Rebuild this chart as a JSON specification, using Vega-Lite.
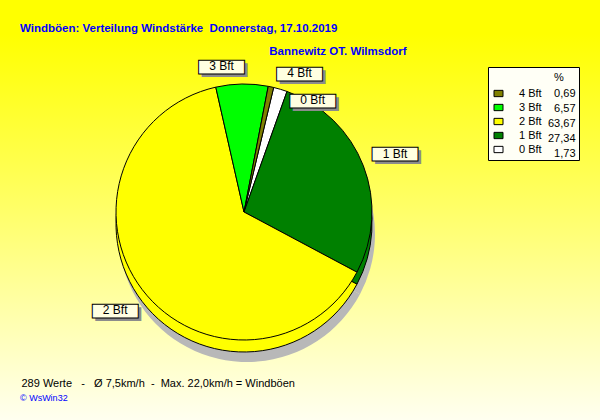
{
  "$schema": "https://vega.github.io/schema/vega-lite/v6.json",
  "width": 600,
  "height": 420,
  "autosize": {"type": "none"},
  "padding": 0,
  "background": "#FFFF00",
  "view": {
    "stroke": null,
    "fill": {
      "gradient": "linear", "x1": 0, "y1": 0, "x2": 0, "y2": 1,
      "stops": [
        {"offset": 0, "color": "#FFFF00"},
        {"offset": 0.08, "color": "#FFFF00"},
        {"offset": 0.5, "color": "#FFFF68"},
        {"offset": 1, "color": "#FFFFF0"}
      ]
    }
  },
  "config": {"font": "Liberation Sans"},
  "title": {
    "text": "Windböen: Verteilung Windstärke\u00a0 Donnerstag, 17.10.2019",
    "subtitle": "© WsWin32",
    "anchor": "start",
    "frame": "group",
    "offset": 0,
    "dx": 20,
    "dy": 403,
    "font": "Liberation Sans",
    "fontSize": 11.5,
    "fontWeight": "bold",
    "color": "#0000FF",
    "subtitleFont": "Liberation Sans",
    "subtitleFontSize": 9,
    "subtitleColor": "#0000FF",
    "subtitlePadding": 360
  },
  "datasets": {
    "wind": [
      {"bft": "0 Bft", "pct": 1.73},
      {"bft": "1 Bft", "pct": 27.34},
      {"bft": "2 Bft", "pct": 63.67},
      {"bft": "3 Bft", "pct": 6.57},
      {"bft": "4 Bft", "pct": 0.69}
    ]
  },
  "data": {"name": "wind"},
  "encoding": {
    "x": {
      "datum": 0, "type": "quantitative",
      "scale": {"domain": [-244, 356], "nice": false, "zero": false},
      "axis": {
        "title": "289 Werte\u00a0\u00a0 -\u00a0\u00a0 Ø 7,5km/h\u00a0 -\u00a0 Max. 22,0km/h = Windböen",
        "domain": false, "ticks": false, "labels": false, "grid": false,
        "titleX": 21, "titleY": -34, "titleAlign": "left", "titleAngle": 0,
        "titleBaseline": "alphabetic", "titleFont": "Liberation Sans",
        "titleFontSize": 11, "titleFontWeight": "normal", "titleColor": "#000000"
      }
    },
    "y": {
      "datum": 0, "type": "quantitative",
      "scale": {"domain": [-208, 212], "nice": false, "zero": false},
      "axis": {
        "title": "Bannewitz OT. Wilmsdorf",
        "domain": false, "ticks": false, "labels": false, "grid": false,
        "titleX": 406, "titleY": 54, "titleAlign": "right", "titleAngle": 0,
        "titleBaseline": "alphabetic", "titleFont": "Liberation Sans",
        "titleFontSize": 11.5, "titleFontWeight": "bold", "titleColor": "#0000FF"
      }
    },
    "theta": {
      "field": "pct", "type": "quantitative", "stack": true,
      "scale": {"range": [0.234, 6.517]}
    },
    "order": {"field": "bft", "type": "ordinal", "sort": "ascending"}
  },
  "layer": [
    {
      "mark": {"type": "arc", "radius": 128, "fill": "#B8B8B8", "yOffset": 22, "xOffset": 3}
    },
    {
      "mark": {"type": "arc", "radius": 128, "yOffset": 12, "stroke": "#000000", "strokeWidth": 1},
      "encoding": {
        "color": {
          "field": "bft", "type": "nominal",
          "scale": {
            "domain": ["4 Bft", "3 Bft", "2 Bft", "1 Bft", "0 Bft"],
            "range": ["#808000", "#00FF00", "#FFFF00", "#008000", "#FFFFFF"]
          },
          "legend": {
            "title": "\u200b\u00a0\u00a0\u00a0\u00a0\u00a0\u00a0\u00a0\u00a0\u00a0\u00a0\u00a0\u00a0\u00a0\u00a0\u00a0\u00a0\u00a0\u00a0\u00a0\u00a0%\u00a0\u00a0\u00a0\u200b",
            "orient": "none", "legendX": 488, "legendY": 67,
            "padding": 5, "fillColor": "#FFFFF6", "strokeColor": "#000000",
            "titleFontSize": 11, "titleFontWeight": "normal", "titlePadding": 5,
            "symbolType": "M-1,-0.7H1V0.7H-1Z", "symbolSize": 81,
            "symbolStrokeColor": "#000000", "symbolStrokeWidth": 1,
            "labelFont": "Liberation Sans", "labelFontSize": 11, "labelColor": "#000000",
            "labelOffset": 15, "rowPadding": 2
          }
        }
      }
    },
    {
      "mark": {"type": "arc", "radius": 128, "stroke": "#000000", "strokeWidth": 1},
      "encoding": {
        "color": {
          "field": "bft", "type": "nominal",
          "scale": {
            "domain": ["4 Bft", "3 Bft", "2 Bft", "1 Bft", "0 Bft"],
            "range": ["#808000", "#00FF00", "#FFFF00", "#008000", "#FFFFFF"]
          },
          "legend": {
            "title": "\u200b\u00a0\u00a0\u00a0\u00a0\u00a0\u00a0\u00a0\u00a0\u00a0\u00a0\u00a0\u00a0\u00a0\u00a0\u00a0\u00a0\u00a0\u00a0\u00a0\u00a0%\u00a0\u00a0\u00a0\u200b",
            "orient": "none", "legendX": 488, "legendY": 67,
            "padding": 5, "fillColor": "#FFFFF6", "strokeColor": "#000000",
            "titleFontSize": 11, "titleFontWeight": "normal", "titlePadding": 5,
            "symbolType": "M-1,-0.7H1V0.7H-1Z", "symbolSize": 81,
            "symbolStrokeColor": "#000000", "symbolStrokeWidth": 1,
            "labelFont": "Liberation Sans", "labelFontSize": 11, "labelColor": "#000000",
            "labelOffset": 15, "rowPadding": 2
          }
        },
        "opacity": {
          "field": "pct", "type": "ordinal",
          "sort": {"field": "bft", "op": "min", "order": "descending"},
          "scale": {"range": [1, 1, 1, 1, 1]},
          "legend": {
            "title": "\u200b",
            "orient": "none", "legendX": 488, "legendY": 67,
            "padding": 5,
            "titleFontSize": 11, "titleFontWeight": "normal", "titlePadding": 5,
            "symbolType": "M-1,-0.7H1V0.7H-1Z", "symbolSize": 81, "symbolOpacity": 0,
            "symbolFillColor": "transparent", "symbolStrokeColor": "transparent",
            "labelFont": "Liberation Sans", "labelFontSize": 11, "labelColor": "#000000",
            "labelAlign": "left", "labelOffset": 44, "rowPadding": 2,
            "labelExpr": "'\u200b' + (datum.value < 10 ? '\u2007' : '') + replace(format(datum.value, '.2f'), '.', ',')"
          }
        }
      }
    },

    {"mark": {"type": "text", "radius": 162, "font": "Liberation Sans", "fontSize": 46, "fill": "#8C8C8C", "dx": 3, "dy": -3.5, "baseline": "middle"},
     "encoding": {"text": {"condition": {"test": "datum.bft == '1 Bft' || datum.bft == '2 Bft'", "value": "▬"}, "value": ""}}},
    {"mark": {"type": "text", "radius": 162, "font": "Liberation Sans", "fontSize": 46, "fill": "#FFFFE1", "stroke": "#000000", "strokeWidth": 1, "dx": 0, "dy": -6.5, "baseline": "middle"},
     "encoding": {"text": {"condition": {"test": "datum.bft == '1 Bft' || datum.bft == '2 Bft'", "value": "▬"}, "value": ""}}},
    {"mark": {"type": "text", "radius": 162, "fontSize": 12, "fill": "#000000", "dx": 0, "dy": 0, "baseline": "middle"},
     "encoding": {"text": {"condition": {"test": "datum.bft == '1 Bft' || datum.bft == '2 Bft'", "field": "bft"}, "value": ""}}},

    {"mark": {"type": "text", "radius": 150, "font": "Liberation Sans", "fontSize": 46, "fill": "#8C8C8C", "dx": -17, "dy": 0.5, "baseline": "middle"},
     "encoding": {"text": {"condition": {"test": "datum.bft == '3 Bft'", "value": "▬"}, "value": ""}}},
    {"mark": {"type": "text", "radius": 150, "font": "Liberation Sans", "fontSize": 46, "fill": "#FFFFE1", "stroke": "#000000", "strokeWidth": 1, "dx": -20, "dy": -2.5, "baseline": "middle"},
     "encoding": {"text": {"condition": {"test": "datum.bft == '3 Bft'", "value": "▬"}, "value": ""}}},
    {"mark": {"type": "text", "radius": 150, "fontSize": 12, "fill": "#000000", "dx": -20, "dy": 4, "baseline": "middle"},
     "encoding": {"text": {"condition": {"test": "datum.bft == '3 Bft'", "field": "bft"}, "value": ""}}},

    {"mark": {"type": "text", "radius": 150, "font": "Liberation Sans", "fontSize": 46, "fill": "#8C8C8C", "dx": 27, "dy": 4.5, "baseline": "middle"},
     "encoding": {"text": {"condition": {"test": "datum.bft == '4 Bft'", "value": "▬"}, "value": ""}}},
    {"mark": {"type": "text", "radius": 150, "font": "Liberation Sans", "fontSize": 46, "fill": "#FFFFE1", "stroke": "#000000", "strokeWidth": 1, "dx": 24, "dy": 1.5, "baseline": "middle"},
     "encoding": {"text": {"condition": {"test": "datum.bft == '4 Bft'", "value": "▬"}, "value": ""}}},
    {"mark": {"type": "text", "radius": 150, "fontSize": 12, "fill": "#000000", "dx": 24, "dy": 8, "baseline": "middle"},
     "encoding": {"text": {"condition": {"test": "datum.bft == '4 Bft'", "field": "bft"}, "value": ""}}},

    {"mark": {"type": "text", "radius": 150, "font": "Liberation Sans", "fontSize": 46, "fill": "#8C8C8C", "dx": 29, "dy": 28.5, "baseline": "middle"},
     "encoding": {"text": {"condition": {"test": "datum.bft == '0 Bft'", "value": "▬"}, "value": ""}}},
    {"mark": {"type": "text", "radius": 150, "font": "Liberation Sans", "fontSize": 46, "fill": "#FFFFE1", "stroke": "#000000", "strokeWidth": 1, "dx": 26, "dy": 25.5, "baseline": "middle"},
     "encoding": {"text": {"condition": {"test": "datum.bft == '0 Bft'", "value": "▬"}, "value": ""}}},
    {"mark": {"type": "text", "radius": 150, "fontSize": 12, "fill": "#000000", "dx": 26, "dy": 32, "baseline": "middle"},
     "encoding": {"text": {"condition": {"test": "datum.bft == '0 Bft'", "field": "bft"}, "value": ""}}}
  ]
}
